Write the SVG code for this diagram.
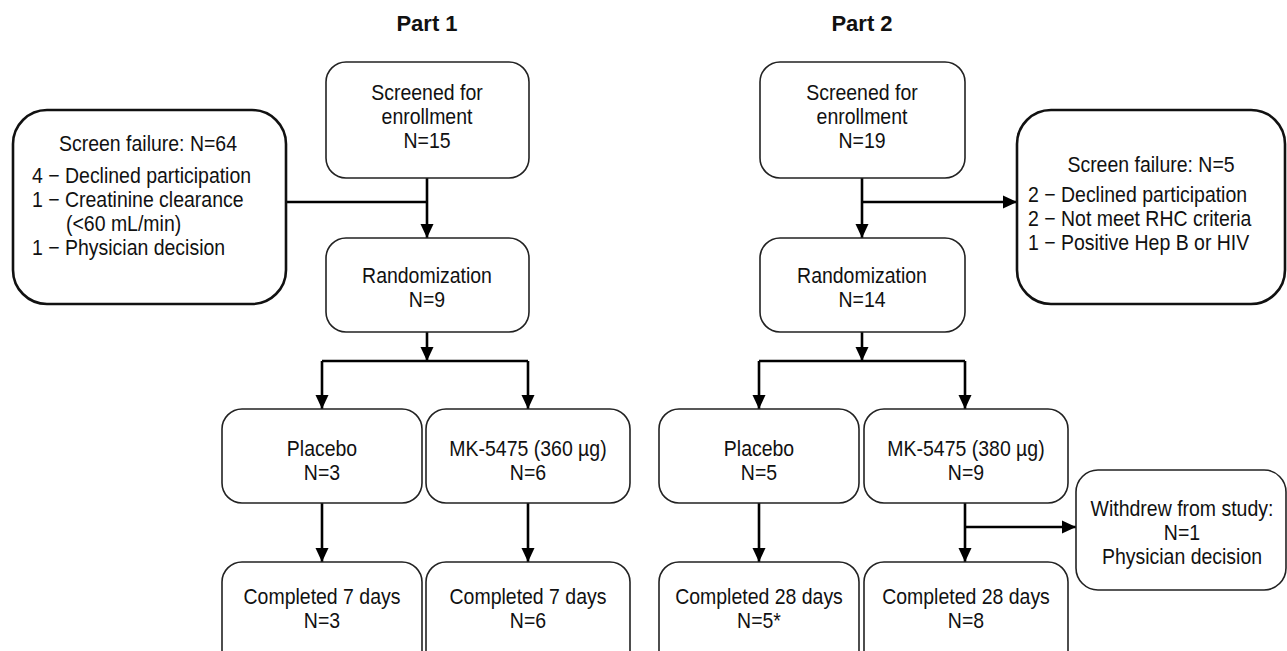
<svg xmlns="http://www.w3.org/2000/svg" width="1287" height="651" viewBox="0 0 1287 651">
<style>
text{font-family:"Liberation Sans",Arial,sans-serif;font-size:22px;fill:#111}
.c{text-anchor:middle}
.t{font-weight:bold;font-size:22px}
.box{fill:#fff;stroke:#222;stroke-width:1.6}
.fail{fill:#fff;stroke:#111;stroke-width:2.6}
.ln{fill:none;stroke:#000;stroke-width:2.6}
</style>
<defs>
<marker id="ah" markerUnits="userSpaceOnUse" markerWidth="14" markerHeight="14" viewBox="0 0 14 14" refX="14" refY="7" orient="auto">
<path d="M0,0.5 L14,7 L0,13.5 Z" fill="#000"/>
</marker>
</defs>
<g id="titles">
<text class="c t" x="427" y="31">Part 1</text>
<text class="c t" x="862" y="31">Part 2</text>
</g>
<g id="connectors">
<path class="ln" d="M427 178 V238" marker-end="url(#ah)"/>
<path class="ln" d="M286 202 H427"/>
<path class="ln" d="M427 332 V361" marker-end="url(#ah)"/>
<path class="ln" d="M322 361 H528"/>
<path class="ln" d="M322 361 V409" marker-end="url(#ah)"/>
<path class="ln" d="M528 361 V409" marker-end="url(#ah)"/>
<path class="ln" d="M322 503 V562" marker-end="url(#ah)"/>
<path class="ln" d="M528 503 V562" marker-end="url(#ah)"/>
<path class="ln" d="M862 178 V238" marker-end="url(#ah)"/>
<path class="ln" d="M862 202 H1017" marker-end="url(#ah)"/>
<path class="ln" d="M862 332 V361" marker-end="url(#ah)"/>
<path class="ln" d="M759 361 H965"/>
<path class="ln" d="M759 361 V409" marker-end="url(#ah)"/>
<path class="ln" d="M965 361 V409" marker-end="url(#ah)"/>
<path class="ln" d="M759 503 V562" marker-end="url(#ah)"/>
<path class="ln" d="M965 503 V562" marker-end="url(#ah)"/>
<path class="ln" d="M965 527 H1076" marker-end="url(#ah)"/>
</g>
<g id="p1-screened">
<rect class="box" x="326" y="62" width="203" height="116" rx="20"/>
<text class="c" transform="translate(427 100) scale(0.885 1)">Screened for</text>
<text class="c" transform="translate(427 124) scale(0.885 1)">enrollment</text>
<text class="c" transform="translate(427 148) scale(0.885 1)">N=15</text>
</g>
<g id="p1-failure">
<rect class="fail" x="13" y="110" width="273" height="194" rx="34"/>
<text class="c" transform="translate(148 151) scale(0.885 1)">Screen failure: N=64</text>
<text transform="translate(32 183) scale(0.885 1)">4 − Declined participation</text>
<text transform="translate(32 207) scale(0.885 1)">1 − Creatinine clearance</text>
<text transform="translate(66 231) scale(0.885 1)">(&lt;60 mL/min)</text>
<text transform="translate(32 255) scale(0.885 1)">1 − Physician decision</text>
</g>
<g id="p1-random">
<rect class="box" x="326" y="238" width="203" height="94" rx="20"/>
<text class="c" transform="translate(427 283) scale(0.885 1)">Randomization</text>
<text class="c" transform="translate(427 307) scale(0.885 1)">N=9</text>
</g>
<g id="p1-placebo">
<rect class="box" x="222" y="409" width="200" height="94" rx="20"/>
<text class="c" transform="translate(322 456) scale(0.885 1)">Placebo</text>
<text class="c" transform="translate(322 480) scale(0.885 1)">N=3</text>
</g>
<g id="p1-mk">
<rect class="box" x="426" y="409" width="204" height="94" rx="20"/>
<text class="c" transform="translate(528 456) scale(0.885 1)">MK-5475 (360 µg)</text>
<text class="c" transform="translate(528 480) scale(0.885 1)">N=6</text>
</g>
<g id="p1-placebo-done">
<rect class="box" x="222" y="562" width="200" height="110" rx="20"/>
<text class="c" transform="translate(322 604) scale(0.885 1)">Completed 7 days</text>
<text class="c" transform="translate(322 628) scale(0.885 1)">N=3</text>
</g>
<g id="p1-mk-done">
<rect class="box" x="426" y="562" width="204" height="110" rx="20"/>
<text class="c" transform="translate(528 604) scale(0.885 1)">Completed 7 days</text>
<text class="c" transform="translate(528 628) scale(0.885 1)">N=6</text>
</g>
<g id="p2-screened">
<rect class="box" x="760" y="62" width="205" height="116" rx="20"/>
<text class="c" transform="translate(862 100) scale(0.885 1)">Screened for</text>
<text class="c" transform="translate(862 124) scale(0.885 1)">enrollment</text>
<text class="c" transform="translate(862 148) scale(0.885 1)">N=19</text>
</g>
<g id="p2-failure">
<rect class="fail" x="1017" y="110" width="268" height="194" rx="34"/>
<text class="c" transform="translate(1151 172) scale(0.885 1)">Screen failure: N=5</text>
<text transform="translate(1028 202) scale(0.885 1)">2 − Declined participation</text>
<text transform="translate(1028 226) scale(0.885 1)">2 − Not meet RHC criteria</text>
<text transform="translate(1028 250) scale(0.885 1)">1 − Positive Hep B or HIV</text>
</g>
<g id="p2-random">
<rect class="box" x="760" y="238" width="205" height="94" rx="20"/>
<text class="c" transform="translate(862 283) scale(0.885 1)">Randomization</text>
<text class="c" transform="translate(862 307) scale(0.885 1)">N=14</text>
</g>
<g id="p2-placebo">
<rect class="box" x="659" y="409" width="200" height="94" rx="20"/>
<text class="c" transform="translate(759 456) scale(0.885 1)">Placebo</text>
<text class="c" transform="translate(759 480) scale(0.885 1)">N=5</text>
</g>
<g id="p2-mk">
<rect class="box" x="864" y="409" width="204" height="94" rx="20"/>
<text class="c" transform="translate(966 456) scale(0.885 1)">MK-5475 (380 µg)</text>
<text class="c" transform="translate(966 480) scale(0.885 1)">N=9</text>
</g>
<g id="p2-withdrew">
<rect class="box" x="1076" y="470" width="210" height="120" rx="22"/>
<text class="c" transform="translate(1182 516) scale(0.885 1)">Withdrew from study:</text>
<text class="c" transform="translate(1182 540) scale(0.885 1)">N=1</text>
<text class="c" transform="translate(1182 564) scale(0.885 1)">Physician decision</text>
</g>
<g id="p2-placebo-done">
<rect class="box" x="659" y="562" width="200" height="110" rx="20"/>
<text class="c" transform="translate(759 604) scale(0.885 1)">Completed 28 days</text>
<text class="c" transform="translate(759 628) scale(0.885 1)">N=5*</text>
</g>
<g id="p2-mk-done">
<rect class="box" x="864" y="562" width="204" height="110" rx="20"/>
<text class="c" transform="translate(966 604) scale(0.885 1)">Completed 28 days</text>
<text class="c" transform="translate(966 628) scale(0.885 1)">N=8</text>
</g>
</svg>
